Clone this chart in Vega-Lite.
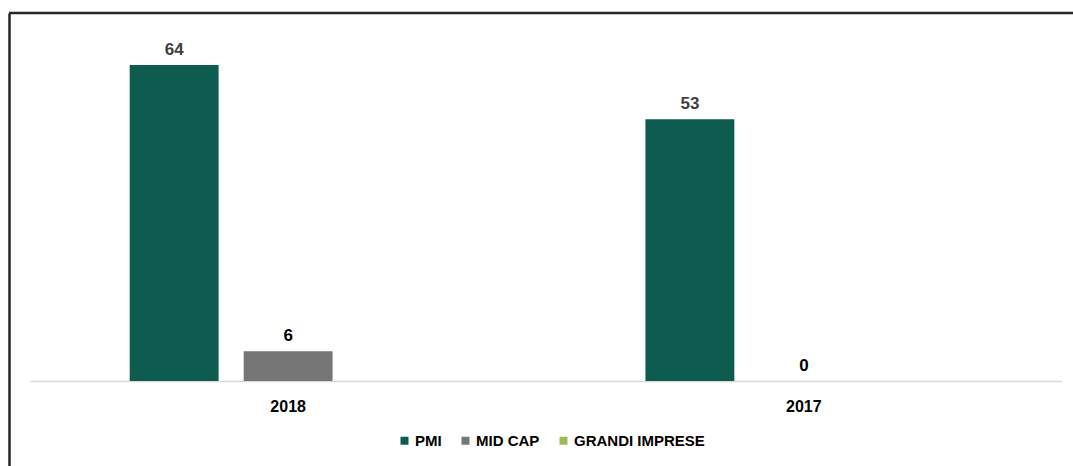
{
  "$schema": "https://vega.github.io/schema/vega-lite/v6.json",
  "autosize": "none",
  "padding": {"left": 9, "top": 13, "right": 0, "bottom": 0},
  "width": 1064,
  "height": 453,
  "background": "white",
  "config": {"view": {"stroke": null}, "font": "Liberation Sans"},
  "data": {"values": [
    {"anno": "2018", "serie": "PMI", "valore": 64},
    {"anno": "2018", "serie": "MID CAP", "valore": 6},
    {"anno": "2017", "serie": "PMI", "valore": 53},
    {"anno": "2017", "serie": "MID CAP", "valore": 0}
  ]},
  "layer": [
    {
      "mark": {"type": "bar"},
      "encoding": {
        "x": {"field": "anno", "type": "nominal", "sort": ["2018", "2017"],
          "scale": {"range": [21, 1053], "paddingInner": 0.337, "paddingOuter": 0.169},
          "axis": {"orient": "bottom", "offset": -85, "title": null, "labelAngle": 0, "labelFontSize": 16, "labelFontWeight": "bold", "labelColor": "#000000", "ticks": false, "tickSize": 0, "labelPadding": 17, "domainColor": "#d9d9d9", "domainWidth": 1.5}},
        "xOffset": {"field": "serie", "type": "nominal", "scale": {"domain": ["PMI", "MID CAP", "GRANDI IMPRESE"], "paddingInner": 0.22, "paddingOuter": 0.11}},
        "y": {"field": "valore", "type": "quantitative",
          "scale": {"domain": [-17.22, 74.53], "nice": false, "zero": false},
          "axis": {"title": null, "labels": false, "ticks": false, "grid": false, "domain": true, "domainColor": "#262626", "domainWidth": 2.5}},
        "y2": {"datum": 0},
        "color": {"field": "serie", "type": "nominal",
          "scale": {"domain": ["PMI", "MID CAP", "GRANDI IMPRESE"], "range": ["#0e5c4f", "#767676", "#9bbb59"]},
          "legend": {"title": null, "orient": "none", "legendX": 388, "legendY": 420, "direction": "horizontal", "columns": 3, "symbolType": "square", "symbolSize": 64, "symbolStrokeWidth": 0, "labelFontSize": 15, "labelFontWeight": "bold", "labelColor": "#000000", "labelOffset": 3, "columnPadding": 16, "padding": 0}}
      }
    },
    {
      "mark": {"type": "text", "dy": -10, "baseline": "alphabetic", "fontSize": 17, "fontWeight": "bold"},
      "encoding": {
        "x": {"field": "anno", "type": "nominal", "sort": ["2018", "2017"]},
        "xOffset": {"field": "serie", "type": "nominal"},
        "y": {"field": "valore", "type": "quantitative"},
        "text": {"field": "valore", "type": "quantitative"},
        "color": {"condition": {"test": "datum.serie === 'PMI'", "value": "#404040"}, "value": "#000000"}
      }
    },
    {
      "data": {"values": [{"bordo": "alto"}]},
      "mark": {"type": "rule", "color": "#262626", "strokeWidth": 2.5},
      "encoding": {"y": {"datum": 74.53}}
    }
  ]
}
